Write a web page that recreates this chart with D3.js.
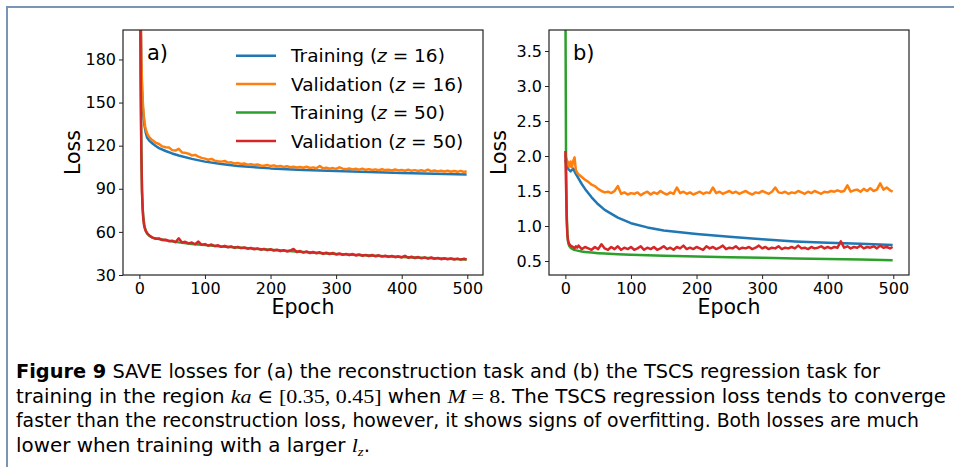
<!DOCTYPE html>
<html>
<head>
<meta charset="utf-8">
<script src="https://cdn.jsdelivr.net/npm/d3@7"></script>
<style>
  body { margin: 0; background: #fff; }
  svg text { font-family: "DejaVu Sans", sans-serif; fill: #000; }
</style>
</head>
<body>
<div id="fig"></div>
<script>
// epoch grids (x values)
const epochsTrain = [0, 1, 2, 3, 4, 5, 6, 8, 10, 12, 15, 20, 25, 30, 40, 50, 60, 80, 100, 125, 150, 200, 250, 300, 350, 400, 450, 499];
const epochsVal = [0, 1, 2, 3, 4, 5, 6, 7, 8, 9, 10, 12, 14, 16, 18].concat(d3.range(20, 500, 5), [499]);

// panel a) reconstruction loss
const trainA16 = [410, 285, 210, 178, 160, 149, 142, 133.5, 128.5, 125.5, 123.5, 121.5, 119.8, 118.3, 116.3, 114.6, 113.2, 110.8, 108.9, 107.2, 105.9, 104.2, 103.1, 102.3, 101.6, 101.0, 100.4, 99.9];
const valA16 = [420, 290, 215, 182, 163, 152, 145, 140, 136, 133, 131, 128.5, 126.5, 125.5, 124.5,
  123.8, 122.0, 121.2, 119.5, 118.9, 118.8, 116.9, 116.6, 117.8, 115.3, 115.0, 114.4, 113.2, 113.6, 112.4, 111.5,
  111.0, 110.2, 110.8, 109.6, 109.1, 108.9, 109.4, 108.2, 108.4, 107.6, 107.9, 107.2, 107.6, 106.8, 107.1, 106.5,
  106.9, 106.2, 106.0, 106.6, 105.8, 106.3, 105.5, 105.9, 105.2, 105.7, 105.0, 105.4, 104.8, 105.2, 104.6, 105.3,
  104.5, 104.9, 104.3, 105.8, 104.2, 104.6, 103.9, 104.4, 103.8, 104.9, 104.0, 103.6, 104.1, 103.5, 103.9, 103.3,
  104.0, 103.2, 103.7, 103.1, 103.5, 102.9, 103.6, 103.0, 103.3, 102.7, 103.4, 102.8, 103.1, 102.6, 103.2, 102.5,
  103.0, 102.4, 102.9, 102.3, 103.3, 102.2, 102.7, 102.1, 102.6, 102.0, 102.5, 101.9, 102.4, 101.8, 102.5, 101.7, 102.2];
const trainA50 = [430, 270, 170, 118, 90, 77, 70, 63.5, 60.5, 58.8, 57.3, 56.0, 55.4, 55.0, 54.2, 53.4, 52.7, 51.6, 50.8, 49.8, 49.1, 47.5, 46.0, 44.6, 43.5, 42.6, 41.6, 40.8];
const valA50 = [420, 260, 165, 115, 88, 76, 69, 65, 63, 61.5, 60.5, 59, 58, 57.2, 56.6,
  56.0, 55.2, 55.4, 54.3, 54.6, 53.5, 53.9, 52.8, 55.5, 52.6, 53.1, 52.0, 52.6, 51.4, 53.3, 51.0,
  51.5, 50.4, 51.2, 50.1, 50.7, 49.6, 50.3, 49.3, 49.9, 48.9, 49.6, 48.7, 49.2, 48.3, 48.9, 47.9,
  48.5, 47.6, 48.2, 47.3, 47.9, 47.0, 47.6, 46.6, 47.3, 46.4, 47.0, 48.1, 46.0, 46.7, 45.6, 46.4,
  45.3, 46.0, 45.1, 45.8, 44.8, 45.5, 44.6, 45.3, 44.3, 45.0, 44.1, 44.7, 43.8, 44.6, 43.6, 44.3,
  43.4, 44.0, 43.2, 43.9, 43.0, 43.7, 42.8, 43.4, 42.6, 43.3, 42.4, 43.0, 42.2, 43.4, 42.0, 42.7,
  41.8, 42.5, 41.6, 42.3, 41.4, 42.2, 41.3, 41.9, 41.0, 41.7, 40.9, 41.6, 40.8, 41.4, 40.7, 41.3, 40.8];

// panel b) TSCS regression loss
const trainB16 = [1.95, 1.90, 1.86, 1.84, 1.82, 1.81, 1.80, 1.78, 1.80, 1.82, 1.76, 1.68, 1.60, 1.53, 1.41, 1.31, 1.23, 1.12, 1.04, 0.98, 0.935, 0.885, 0.845, 0.81, 0.78, 0.76, 0.745, 0.73];
const valB16 = [2.02, 1.98, 1.95, 1.88, 1.92, 1.86, 1.90, 1.85, 1.92, 1.88, 1.84, 1.93, 1.98, 1.80, 1.76,
  1.74, 1.70, 1.66, 1.63, 1.59, 1.57, 1.53, 1.50, 1.48, 1.49, 1.47, 1.50, 1.57, 1.46, 1.48, 1.45,
  1.47, 1.46, 1.48, 1.44, 1.47, 1.49, 1.45, 1.48, 1.46, 1.50, 1.47, 1.45, 1.48, 1.46, 1.55, 1.47,
  1.49, 1.46, 1.48, 1.45, 1.47, 1.49, 1.46, 1.48, 1.47, 1.55, 1.47, 1.49, 1.46, 1.48, 1.50, 1.47,
  1.49, 1.46, 1.48, 1.50, 1.47, 1.45, 1.48, 1.47, 1.50, 1.48, 1.46, 1.49, 1.55, 1.48, 1.47, 1.49,
  1.46, 1.48, 1.47, 1.50, 1.48, 1.46, 1.49, 1.47, 1.50, 1.48, 1.46, 1.49, 1.48, 1.50, 1.49, 1.51,
  1.49, 1.50, 1.58, 1.49, 1.51, 1.52, 1.49, 1.53, 1.50, 1.54, 1.50, 1.52, 1.61, 1.52, 1.55, 1.51, 1.49];
const trainB50 = [4.5, 2.0, 1.2, 0.9, 0.78, 0.74, 0.715, 0.69, 0.675, 0.665, 0.655, 0.645, 0.635, 0.63, 0.62, 0.612, 0.606, 0.598, 0.59, 0.582, 0.575, 0.563, 0.553, 0.545, 0.537, 0.529, 0.52, 0.512];
const valB50 = [2.07, 1.6, 1.1, 0.88, 0.80, 0.76, 0.74, 0.73, 0.72, 0.71, 0.71, 0.70, 0.68, 0.71, 0.69,
  0.72, 0.67, 0.70, 0.68, 0.66, 0.70, 0.67, 0.74, 0.68, 0.66, 0.70, 0.67, 0.71, 0.66, 0.69, 0.67,
  0.70, 0.66, 0.68, 0.71, 0.66, 0.69, 0.67, 0.70, 0.66, 0.68, 0.71, 0.67, 0.69, 0.66, 0.70, 0.68,
  0.72, 0.67, 0.69, 0.67, 0.70, 0.68, 0.66, 0.71, 0.68, 0.70, 0.67, 0.69, 0.72, 0.67, 0.69, 0.68,
  0.71, 0.67, 0.69, 0.68, 0.70, 0.67, 0.69, 0.72, 0.68, 0.70, 0.67, 0.69, 0.68, 0.71, 0.67, 0.69,
  0.68, 0.70, 0.68, 0.72, 0.68, 0.69, 0.67, 0.70, 0.68, 0.69, 0.71, 0.68, 0.70, 0.68, 0.70, 0.69,
  0.78, 0.69, 0.71, 0.68, 0.70, 0.69, 0.72, 0.68, 0.70, 0.69, 0.71, 0.68, 0.72, 0.69, 0.70, 0.68, 0.70];

const xTicks = [0, 100, 200, 300, 400, 500];
const yTicksA = [30, 60, 90, 120, 150, 180];
const yTicksB = [0.5, 1.0, 1.5, 2.0, 2.5, 3.0, 3.5];
const seriesNames = ["Training", "Validation", "Training", "Validation"];
const seriesZ = ["16", "16", "50", "50"];
const colors = ["#1f77b4", "#ff7f0e", "#2ca02c", "#d62728"];

const width = 954, height = 467;
const svg = d3.select('#fig').append('svg')
  .attr('width', width)
  .attr('height', height);

// figure frame
svg.append('rect')
  .attr('x', 7).attr('y', 7)
  .attr('width', 960).attr('height', 480)
  .attr('fill', 'none')
  .attr('stroke', '#7895b4')
  .attr('stroke-width', 2);

function drawPanel(id, left, yDomain, yTicks, yFmt, data, tag) {
  const top = 30, bottom = 275, w = 360;
  const x = d3.scaleLinear().domain([-24.95, 523.95]).range([left, left + w]);
  const y = d3.scaleLinear().domain(yDomain).range([bottom, top]);

  svg.append('clipPath').attr('id', 'clip' + id)
    .append('rect').attr('x', left).attr('y', top).attr('width', w).attr('height', bottom - top);

  const g = svg.append('g').attr('clip-path', `url(#clip${id})`);
  const line = d3.line().x(d => x(d[0])).y(d => y(d[1]));
  data.forEach((s, i) => {
    g.append('path')
      .attr('d', line(s.epochs.map((e, k) => [e, s.values[k]])))
      .attr('fill', 'none')
      .attr('stroke', colors[i])
      .attr('stroke-width', 2.5)
      .attr('stroke-linejoin', 'round');
  });

  // spines
  svg.append('rect')
    .attr('x', left).attr('y', top).attr('width', w).attr('height', bottom - top)
    .attr('fill', 'none').attr('stroke', '#222').attr('stroke-width', 1.2);

  const xAxis = svg.append('g').attr('transform', `translate(0,${bottom})`)
    .call(d3.axisBottom(x).tickValues(xTicks).tickSize(4).tickPadding(4));
  const yAxis = svg.append('g').attr('transform', `translate(${left},0)`)
    .call(d3.axisLeft(y).tickValues(yTicks).tickFormat(d3.format(yFmt)).tickSize(4).tickPadding(3));
  [xAxis, yAxis].forEach(a => {
    a.select('.domain').remove();
    a.selectAll('.tick line').attr('stroke', '#222').attr('stroke-width', 1);
    a.selectAll('.tick text').attr('fill', '#000').style('font-size', '16px')
      .style('font-family', '"DejaVu Sans", sans-serif');
  });

  svg.append('text')
    .attr('x', left + w / 2).attr('y', 314)
    .attr('text-anchor', 'middle').style('font-size', '20.5px')
    .text('Epoch');
  svg.append('text')
    .attr('transform', `translate(${left - 43},${(top + bottom) / 2}) rotate(-90)`)
    .attr('text-anchor', 'middle').style('font-size', '20.5px')
    .text('Loss');
  svg.append('text')
    .attr('x', left + 24).attr('y', 60)
    .style('font-size', '21px')
    .text(tag);
}

drawPanel('a', 123, [30, 200.5], yTicksA, 'd', [
  {epochs: epochsTrain, values: trainA16},
  {epochs: epochsVal, values: valA16},
  {epochs: epochsTrain, values: trainA50},
  {epochs: epochsVal, values: valA50}
], 'a)');

drawPanel('b', 549, [0.3, 3.8], yTicksB, '.1f', [
  {epochs: epochsTrain, values: trainB16},
  {epochs: epochsVal, values: valB16},
  {epochs: epochsTrain, values: trainB50},
  {epochs: epochsVal, values: valB50}
], 'b)');

// legend (panel a)
const legend = svg.append('g');
seriesNames.forEach((name, i) => {
  const cy = 55.7 + i * 28.4;
  legend.append('line')
    .attr('x1', 236).attr('x2', 276).attr('y1', cy).attr('y2', cy)
    .attr('stroke', colors[i]).attr('stroke-width', 2.5);
  const t = legend.append('text')
    .attr('x', 291).attr('y', cy + 6.6)
    .style('font-size', '18.5px');
  t.append('tspan').text(name + ' (');
  t.append('tspan').style('font-style', 'italic').text('z');
  t.append('tspan').text(' = ' + seriesZ[i] + ')');
});

// caption
const capFont = '"Liberation Sans Narrow", "DejaVu Sans Condensed", "Liberation Sans", sans-serif';
const mathFont = '"Liberation Serif", "DejaVu Serif", serif';
const capLines = [
  {y: 378, len: 864, parts: [
    {t: 'Figure 9', bold: true},
    {t: ' SAVE losses for (a) the reconstruction task and (b) the TSCS regression task for'}]},
  {y: 402.5, len: 930, parts: [
    {t: 'training in the region '},
    {t: 'ka', math: true, it: true},
    {t: ' \u2208 [0.35, 0.45]', math: true},
    {t: ' when '},
    {t: 'M', math: true, it: true},
    {t: ' = 8.', math: true},
    {t: ' The TSCS regression loss tends to converge'}]},
  {y: 427, len: 903, parts: [
    {t: 'faster than the reconstruction loss, however, it shows signs of overfitting. Both losses are much'}]},
  {y: 451.5, len: 354, parts: [
    {t: 'lower when training with a larger '},
    {t: 'l', math: true, it: true},
    {t: 'z', math: true, it: true, sub: true},
    {t: '.', dy: -4}]}
];
capLines.forEach(l => {
  const t = svg.append('text')
    .attr('x', 16).attr('y', l.y)
    .attr('textLength', l.len).attr('lengthAdjust', 'spacingAndGlyphs')
    .style('font-family', capFont).style('font-size', '19px');
  l.parts.forEach(p => {
    const s = t.append('tspan').text(p.t);
    if (p.bold) s.style('font-weight', 'bold');
    if (p.math) s.style('font-family', mathFont);
    if (p.it) s.style('font-style', 'italic');
    if (p.sub) s.attr('dy', 4).style('font-size', '13px');
    if (p.dy) s.attr('dy', p.dy);
  });
});
</script>
</body>
</html>
